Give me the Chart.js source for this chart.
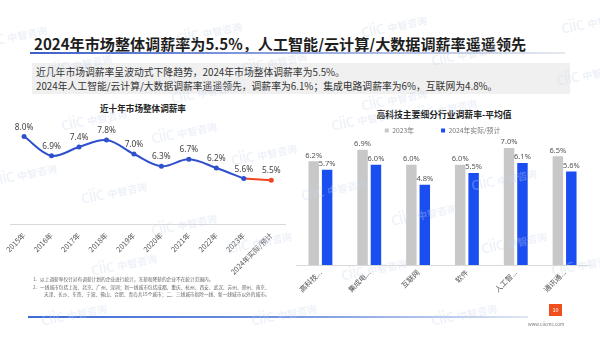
<!DOCTYPE html>
<html><head><meta charset="utf-8">
<script src="https://cdn.jsdelivr.net/npm/chart.js@4"></script>
<style>
html,body{margin:0;padding:0;background:#fff;}
body{width:600px;height:337px;position:relative;overflow:hidden;font-family:"Noto Sans CJK SC","Noto Sans",sans-serif;}
.abs{position:absolute;}
#title{left:34px;top:32px;font-size:15.1px;font-weight:bold;color:#1e1e1e;white-space:nowrap;}
#tline{left:30px;top:52px;width:535px;height:1.5px;background:linear-gradient(90deg,#3d5fc9 0%,#8aa0dd 45%,#e6e9f0 100%);}
#box{left:32px;top:63px;width:538px;height:31px;background:#f0f0f0;}
.bt{left:36px;font-size:9.8px;color:#333;white-space:nowrap;}
#lt{left:43px;width:200px;top:102px;text-align:center;font-size:8.6px;font-weight:bold;color:#222;}
#rt{left:294px;width:300px;top:108px;text-align:center;font-size:8.8px;font-weight:bold;color:#222;}
.fn{font-size:4.7px;color:#666;white-space:nowrap;}
#bline{left:28px;top:316px;width:500px;height:1.5px;background:linear-gradient(90deg,#3d6ad6 0%,#6f91e0 50%,#dfe6f3 100%);}
#pg{left:549px;top:304px;width:13px;height:12px;background:#f04e1d;color:#fff;font-size:5.5px;text-align:center;line-height:12px;}
#url{left:528px;top:321px;font-size:4.6px;color:#777;}
.wm{position:absolute;color:rgba(200,212,232,0.32);transform:rotate(-12deg);white-space:nowrap;font-family:"Noto Sans",sans-serif;pointer-events:none;z-index:5;}
.wm b{font-size:18px;font-weight:normal;letter-spacing:-1px;}
.wm span{font-size:10px;font-family:"Noto Sans CJK SC";font-weight:bold;}
canvas{position:absolute;}
</style></head>
<body>
<div class="abs" id="title">2024年市场整体调薪率为5.5%，人工智能/云计算/大数据调薪率遥遥领先</div>
<div class="abs" id="tline"></div>
<div class="abs" id="box"></div>
<div class="abs bt" style="top:65px">近几年市场调薪率呈波动式下降趋势，2024年市场整体调薪率为5.5%。</div>
<div class="abs bt" style="top:79px">2024年人工智能/云计算/大数据调薪率遥遥领先，调薪率为6.1%；集成电路调薪率为6%，互联网为4.8%。</div>
<div class="abs" id="lt">近十年市场整体调薪率</div>
<div class="abs" id="rt">高科技主要细分行业调薪率-平均值</div>
<div style="position:absolute;left:0;top:100px;width:300px;height:200px;"><canvas id="c1" width="300" height="200"></canvas></div>
<div style="position:absolute;left:296px;top:100px;width:304px;height:210px;"><canvas id="c2" width="304" height="210"></canvas></div>
<div class="abs fn" style="left:33px;top:276px">1.&nbsp;&nbsp;&nbsp;以上调薪率仅针对有调薪计划的企业进行统计，冻薪和降薪的企业不在统计范围内。</div>
<div class="abs fn" style="left:33px;top:284px">2.&nbsp;&nbsp;&nbsp;一线城市包括上海、北京、广州、深圳；新一线城市包括成都、重庆、杭州、西安、武汉、苏州、郑州、南京、</div>
<div class="abs fn" style="left:44px;top:291px">天津、长沙、东莞、宁波、佛山、合肥、青岛共15个城市；二、三线城市指除一线、新一线城市以外的城市。</div>
<div class="abs" id="bline"></div>
<div class="abs" id="pg">10</div>
<div class="abs" id="url">www.ciicmc.com</div>
<div id="wms"></div>
<script>
// ---- data ----
const yearLabels = ['2015年','2016年','2017年','2018年','2019年','2020年','2021年','2022年','2023年','2024年实际/预计'];
const marketRate = [8.0, 6.9, 7.4, 7.8, 7.0, 6.3, 6.7, 6.2, 5.6, 5.5];
const industryLabels = ['高科技...','集成电...','互联网','软件','人工智...','通讯通...'];
const rate2023 = [6.2, 6.9, 6.0, 6.0, 7.0, 6.5];
const rate2024 = [5.7, 6.0, 4.8, 5.5, 6.1, 5.6];
const seriesNames = ['2023年','2024年实际/预计'];

// watermarks
const wmPos=[[-20,22],[175,18],[360,12],[560,8],[45,50],[240,48],[430,40],[170,78],[360,85],[555,60],[60,105],[150,118],[230,140],[-10,160],[80,178],[150,210],[225,228],[90,250],[330,105],[410,95],[300,175],[390,200],[470,165],[480,228],[550,250],[250,300],[430,300],[40,300],[340,255]];
const wmHost=document.getElementById('wms');
wmPos.forEach(p=>{const d=document.createElement('div');d.className='wm';d.style.left=p[0]+'px';d.style.top=p[1]+'px';d.innerHTML='<b>ciic</b> <span>中智咨询</span>';wmHost.appendChild(d);});

const valueLabels = {
  id:'valueLabels',
  afterDatasetsDraw(chart, args, opts){
    const ctx=chart.ctx;
    ctx.save();
    ctx.font = (opts.size||8.5)+'px "Noto Sans", sans-serif';
    ctx.fillStyle = opts.color||'#555';
    ctx.textAlign='center';
    ctx.textBaseline='bottom';
    chart.data.datasets.forEach((ds,i)=>{
      const meta=chart.getDatasetMeta(i);
      meta.data.forEach((el,j)=>{
        const v=ds.data[j];
        if(v==null) return;
        if(ds.labelIdx && !ds.labelIdx.includes(j)) return;
        ctx.fillText(v.toFixed(1)+'%', el.x, el.y - (opts.gap||4));
      });
    });
    ctx.restore();
  }
};

Chart.defaults.font.family='"Noto Sans CJK SC","Noto Sans",sans-serif';
Chart.defaults.animation=false;

const blue='#2f50cc', red='#f0461f';
const n=marketRate.length;
new Chart(document.getElementById('c1'),{
  type:'line',
  data:{labels:yearLabels,datasets:[
    {data:marketRate.map((v,i)=>i<=n-2?v:null), borderColor:blue, backgroundColor:blue, borderWidth:2, pointRadius:2.5, pointBackgroundColor:blue, pointBorderWidth:0, tension:0.35},
    {data:marketRate.map((v,i)=>i>=n-2?v:null), borderColor:red, backgroundColor:red, borderWidth:2, pointRadius:marketRate.map((v,i)=>i===n-1?2.5:0), pointBackgroundColor:red, pointBorderWidth:0, tension:0, labelIdx:[n-1]},
  ]},
  options:{
    responsive:false, maintainAspectRatio:false,
    layout:{padding:{top:19,left:9,right:15,bottom:0}},
    plugins:{legend:{display:false},tooltip:{enabled:false},
      valueLabels:{size:8.3,color:'#444',gap:5}},
    scales:{
      x:{offset:true, grid:{display:false, drawTicks:false}, border:{display:true,color:'#d9d9d9'},
         ticks:{minRotation:45,maxRotation:45,color:'#555',font:{size:7.3},padding:7,autoSkip:false},
         afterFit(s){s.height=76;}},
      y:{display:false,min:3,max:9}
    }
  },
  plugins:[valueLabels]
});

new Chart(document.getElementById('c2'),{
  type:'bar',
  data:{labels:industryLabels,datasets:[
    {label:seriesNames[0],data:rate2023,backgroundColor:'#c8c8c8'},
    {label:seriesNames[1],data:rate2024,backgroundColor:'#1b4ef0'}
  ]},
  options:{
    responsive:false, maintainAspectRatio:false,
    layout:{padding:{top:0,left:0,right:11,bottom:0}},
    datasets:{bar:{categoryPercentage:0.55,barPercentage:0.78}},
    plugins:{tooltip:{enabled:false},
      legend:{display:true,position:'top',labels:{boxWidth:4,boxHeight:4,color:'#777',font:{size:6.8},padding:27}},
      valueLabels:{size:7.5,color:'#555',gap:2}},
    scales:{
      x:{grid:{display:false,drawTicks:false},border:{display:true,color:'#d9d9d9'},
         ticks:{minRotation:45,maxRotation:45,color:'#555',font:{size:7.3},padding:3,autoSkip:false},
         afterFit(s){s.height=45;}},
      y:{display:false,min:0,max:7.25}
    }
  },
  plugins:[valueLabels]
});
</script>
</body></html>
